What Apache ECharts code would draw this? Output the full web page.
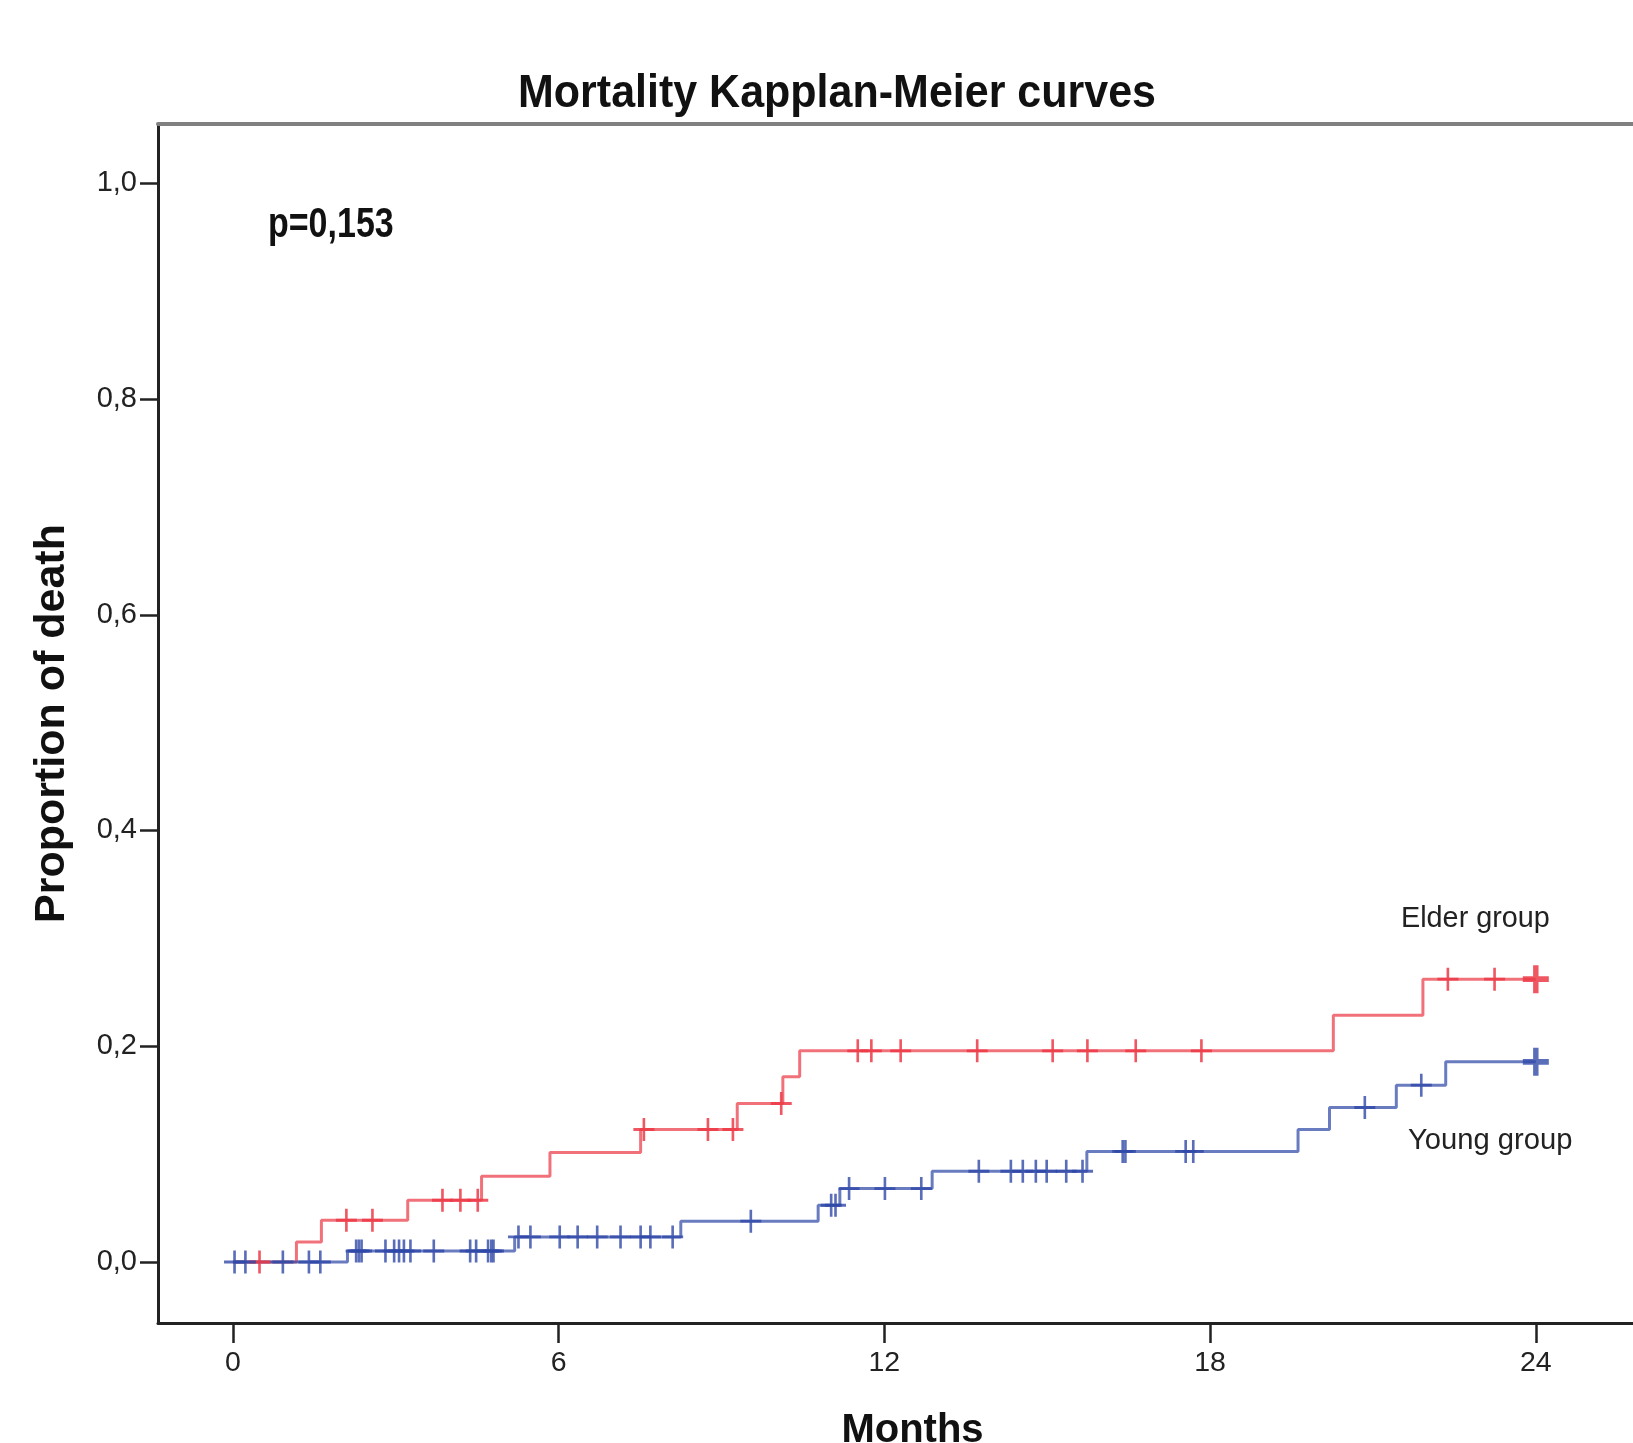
<!DOCTYPE html>
<html>
<head>
<meta charset="utf-8">
<script src="https://cdn.jsdelivr.net/npm/echarts@6/dist/echarts.min.js"></script>
<style>
  html, body { margin: 0; padding: 0; background: #fff; overflow: hidden; }
  #chart { width: 1633px; height: 1443px; }
</style>
</head>
<body>
<div id="chart"></div>
<script>
// ---- Data ----
const xTickValues = [0, 6, 12, 18, 24];
const xTickLabels = ['0', '6', '12', '18', '24'];
const yTickValues = [0, 0.2, 0.4, 0.6, 0.8, 1.0];
const yTickLabels = ['0,0', '0,2', '0,4', '0,6', '0,8', '1,0'];

const seriesNames = ['Elder group', 'Young group'];
const titleText = 'Mortality Kapplan-Meier curves';
const pValueText = 'p=0,153';
const xAxisTitle = 'Months';
const yAxisTitle = 'Proportion of death';

// Elder group: step times (months) and cumulative proportion of death
const elderTimes  = [0, 1.17, 1.63, 3.22, 4.58, 5.84, 7.51, 9.29, 10.13, 10.44, 20.27, 21.92, 24];
const elderValues = [0, 0.0185, 0.0387, 0.0572, 0.0795, 0.1014, 0.1228, 0.1469, 0.1716, 0.1957, 0.2288, 0.2622, 0.2622];
const elderCensored = [0.49, 2.09, 2.57, 3.86, 4.19, 4.51, 7.57, 8.75, 9.21, 10.10, 11.51, 11.76, 12.30,
  13.71, 15.10, 15.74, 16.63, 17.84, 22.38, 23.24, 24, 24, 24];

// Young group
const youngTimes  = [0, 2.11, 5.19, 8.25, 10.78, 11.18, 12.88, 15.73, 19.62, 20.20, 21.43, 22.34, 24];
const youngValues = [0, 0.0102, 0.0232, 0.0378, 0.0526, 0.068, 0.0841, 0.1025, 0.1228, 0.1432, 0.1639, 0.1855, 0.1855];
const youngCensored = [0.03, 0.23, 0.92, 1.40, 1.61, 2.27, 2.32, 2.37, 2.81, 2.97, 3.06, 3.15, 3.27, 3.70,
  4.37, 4.48, 4.70, 4.76, 4.80, 5.26, 5.48, 6.02, 6.35, 6.71, 7.14, 7.51, 7.69, 8.10, 9.54, 11.02, 11.10,
  11.35, 12.01, 12.68, 13.74, 14.33, 14.55, 14.79, 14.99, 15.35, 15.65, 16.39, 16.44, 17.55, 17.69,
  20.85, 21.89, 24, 24, 24];

// ---- Helpers ----
const PLUS = 'path://M10.5,0 H13.5 V10.5 H24 V13.5 H13.5 V24 H10.5 V13.5 H0 V10.5 H10.5 Z';
const PLUS_BOLD = 'path://M9.5,0 H14.5 V9.5 H24 V14.5 H14.5 V24 H9.5 V14.5 H0 V9.5 H9.5 Z';

function stepAt(times, values, t) {
  let v = values[0];
  for (let i = 0; i < times.length; i++) { if (times[i] <= t + 1e-9) v = values[i]; }
  return v;
}
function censorPoints(times, values, cens) {
  const counts = new Map();
  cens.forEach(t => counts.set(t, (counts.get(t) || 0) + 1));
  const out = [];
  counts.forEach((n, t) => {
    const bold = n > 1;
    out.push({
      value: [t, stepAt(times, values, t)],
      symbol: bold ? PLUS_BOLD : PLUS,
      symbolSize: bold ? [26, 28] : [21, 23]
    });
  });
  return out;
}

const RED = '#ec3a46';
const BLUE = '#3049a8';
const FONT = '"Liberation Sans", Arial, sans-serif';

const W = 1633, H = 1443;
const chart = echarts.init(document.getElementById('chart'), null, { renderer: 'canvas', width: W, height: H });

const GRID_LEFT = 158, GRID_TOP = 124, GRID_W = 1475, GRID_H = 1199;

const option = {
  animation: false,
  backgroundColor: '#ffffff',
  grid: { left: GRID_LEFT, top: GRID_TOP, width: GRID_W, height: GRID_H, containLabel: false, outerBoundsMode: 'none' },
  xAxis: [
    {
      type: 'value', min: -1.38, max: 25.79, position: 'bottom',
      axisLine: { show: true, onZero: false, lineStyle: { color: '#222', width: 3 } },
      axisTick: { show: true, length: 20, customValues: xTickValues, lineStyle: { color: '#222', width: 2.5 } },
      axisLabel: {
        customValues: xTickValues, margin: 26,
        formatter: v => xTickLabels[xTickValues.indexOf(v)],
        fontSize: 28.5, color: '#222', fontFamily: FONT
      },
      splitLine: { show: false },
      name: xAxisTitle, nameLocation: 'middle', nameGap: 88,
      nameTextStyle: { fontSize: 40, fontWeight: 'bold', color: '#111', fontFamily: FONT, padding: [0, 0, 0, 34] }
    },
    {
      type: 'value', min: -1.38, max: 25.79, position: 'top',
      axisLine: { show: true, onZero: false, lineStyle: { color: '#808080', width: 4 } },
      axisTick: { show: false }, axisLabel: { show: false }, splitLine: { show: false }
    }
  ],
  yAxis: [{
    type: 'value', min: -0.0566, max: 1.055,
    axisLine: { show: true, onZero: false, lineStyle: { color: '#222', width: 3 } },
    axisTick: { show: true, length: 18, customValues: yTickValues, lineStyle: { color: '#222', width: 2.5 } },
    axisLabel: {
      customValues: yTickValues, margin: 21,
      formatter: v => yTickLabels[yTickValues.findIndex(x => Math.abs(x - v) < 1e-6)],
      fontSize: 29, color: '#222', fontFamily: FONT
    },
    splitLine: { show: false },
    name: yAxisTitle, nameLocation: 'middle', nameGap: 84, nameRotate: 90,
    nameTextStyle: { fontSize: 43, fontWeight: 'bold', color: '#111', fontFamily: FONT }
  }],
  series: [
    {
      name: seriesNames[0], type: 'line', step: 'end', showSymbol: false, silent: true,
      data: elderTimes.map((t, i) => [t, elderValues[i]]),
      lineStyle: { color: RED, width: 3, opacity: 0.72 }, z: 2
    },
    {
      name: seriesNames[1], type: 'line', step: 'end', showSymbol: false, silent: true,
      data: youngTimes.map((t, i) => [t, youngValues[i]]),
      lineStyle: { color: BLUE, width: 3, opacity: 0.72 }, z: 3
    },
    {
      name: seriesNames[0] + ' censored', type: 'scatter', silent: true,
      data: censorPoints(elderTimes, elderValues, elderCensored),
      itemStyle: { color: RED, opacity: 0.85 }, z: 4
    },
    {
      name: seriesNames[1] + ' censored', type: 'scatter', silent: true,
      data: censorPoints(youngTimes, youngValues, youngCensored),
      itemStyle: { color: BLUE, opacity: 0.8 }, z: 5
    }
  ],
  graphic: [
    { type: 'text', x: 837, y: 94, scaleY: 1.06, style: {
      text: titleText, fill: '#111', font: 'bold 43px ' + FONT, textAlign: 'center', textVerticalAlign: 'middle' } },
    { type: 'text', x: 268, y: 225, scaleY: 1.25, style: {
      text: pValueText, fill: '#111', font: 'bold 34px ' + FONT,
      textAlign: 'left', textVerticalAlign: 'middle' } },
    { type: 'text', x: 1401, y: 918.8, style: {
      text: seriesNames[0], fill: '#222', font: '28.8px ' + FONT, textAlign: 'left', textVerticalAlign: 'middle' } },
    { type: 'text', x: 1408, y: 1140.7, style: {
      text: seriesNames[1], fill: '#222', font: '29.2px ' + FONT, textAlign: 'left', textVerticalAlign: 'middle' } }
  ]
};
chart.setOption(option);
</script>
</body>
</html>
